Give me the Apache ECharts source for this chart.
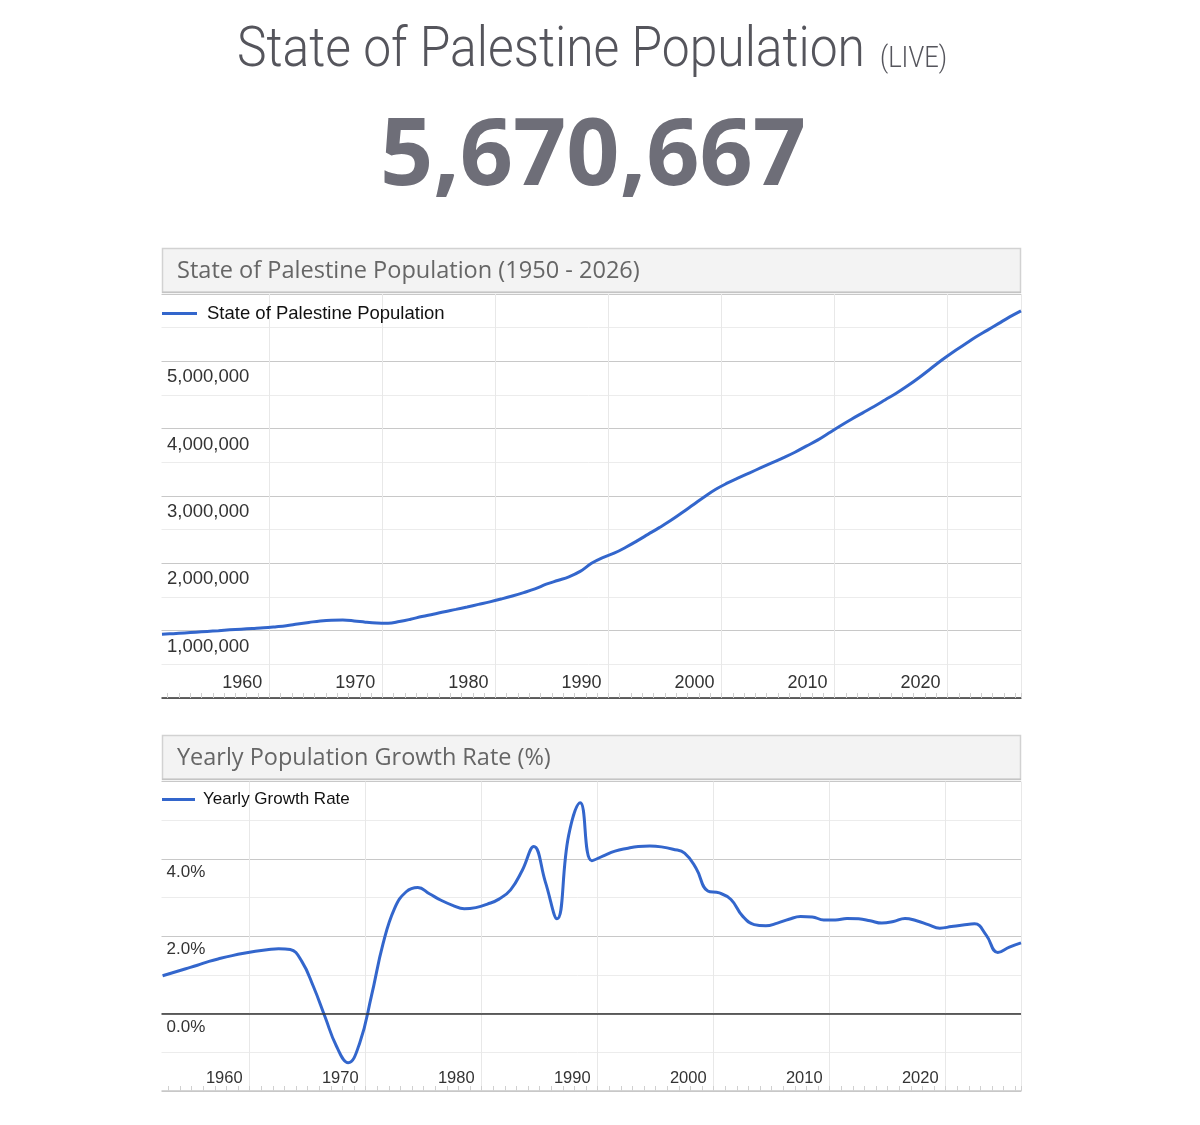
<!DOCTYPE html>
<html><head><meta charset="utf-8">
<script src="https://cdn.jsdelivr.net/npm/echarts@6/dist/echarts.min.js"></script>
<style>html,body{margin:0;padding:0;background:#fff}#c{width:1200px;height:1125px}</style>
</head><body><div id="c"></div><script>
// ---- data (mid-year estimates) ----
const popYears = [1950,1951,1952,1953,1954,1955,1956,1957,1958,1959,1960,1961,1962,1963,1964,1965,1966,1967,1968,1969,1970,1971,1972,1973,1974,1975,1976,1977,1978,1979,1980,1981,1982,1983,1984,1985,1986,1987,1988,1989,1990,1991,1992,1993,1994,1995,1996,1997,1998,1999,2000,2001,2002,2003,2004,2005,2006,2007,2008,2009,2010,2011,2012,2013,2014,2015,2016,2017,2018,2019,2020,2021,2022,2023,2024,2025,2026];
const popValues = [945000,956000,967000,978000,989000,1000000,1012000,1022000,1032000,1042000,1056000,1072000,1098000,1122000,1145000,1156000,1157000,1145000,1126000,1113000,1110000,1135000,1170000,1210000,1245000,1282000,1316000,1352000,1390000,1428000,1470000,1515000,1565000,1620000,1690000,1745000,1800000,1880000,2000000,2085000,2150000,2235000,2330000,2430000,2530000,2635000,2750000,2870000,2990000,3100000,3190000,3270000,3345000,3420000,3495000,3570000,3650000,3740000,3830000,3935000,4040000,4140000,4235000,4330000,4430000,4530000,4640000,4760000,4890000,5020000,5140000,5250000,5360000,5460000,5560000,5660000,5750000];
const growthYears = [1952,1953,1954,1955,1956,1957,1958,1959,1960,1961,1962,1963,1964,1965,1966,1967,1968,1969,1970,1971,1972,1973,1974,1975,1976,1977,1978,1979,1980,1981,1982,1983,1984,1985,1986,1987,1988,1989,1990,1991,1992,1993,1994,1995,1996,1997,1998,1999,2000,2001,2002,2003,2004,2005,2006,2007,2008,2009,2010,2011,2012,2013,2014,2015,2016,2017,2018,2019,2020,2021,2022,2023,2024,2025,2026];
const growthValues = [0.98,1.07,1.16,1.25,1.35,1.43,1.50,1.56,1.61,1.65,1.68,1.66,1.35,0.70,-0.08,-0.85,-1.27,-0.75,0.45,1.80,2.72,3.15,3.26,3.10,2.93,2.80,2.71,2.74,2.83,2.96,3.20,3.70,4.32,3.40,2.45,4.60,5.45,3.95,4.08,4.20,4.27,4.32,4.33,4.31,4.25,4.15,3.75,3.17,3.12,2.95,2.52,2.30,2.27,2.34,2.44,2.51,2.50,2.42,2.42,2.46,2.45,2.40,2.34,2.38,2.46,2.40,2.30,2.21,2.25,2.29,2.32,2.03,1.58,1.72,1.83];
const xTickLabels = [1960,1970,1980,1990,2000,2010,2020];
const popTickLabels = [1000000,2000000,3000000,4000000,5000000];
const growthTickLabels = [0,2,4];
const MID_YEAR = 0.5; // estimates refer to 1 July of each year

const headline = 'State of Palestine Population';
const liveTag = '(LIVE)';
const liveNumber = '5,670,667';
const popTitle = 'State of Palestine Population (1950 - 2026)';
const growthTitle = 'Yearly Population Growth Rate (%)';
const popSeriesName = 'State of Palestine Population';
const growthSeriesName = 'Yearly Growth Rate';

// ---- helpers ----
const ctx = document.createElement('canvas').getContext('2d');
function tw(font, s){ ctx.font = font; return ctx.measureText(s).width; }
function fitSize(family, weight, s, target, base){ return base * target / tw(weight+' '+base+'px '+family, s); }

const LINE = '#3366cc';
const AX_FONT = '"Liberation Sans", Arial, sans-serif';

const hFont = '300 56px Roboto';
const hScale = 628 / tw(hFont, headline);
const lFont = '300 29px Roboto';
const lScale = 67 / tw(lFont, liveTag);
const nFont = 'bold 94px "Open Sans"';
const nScale = 426 / tw(nFont, liveNumber);
const t1Size = fitSize('"Open Sans"', 'normal', popTitle, 463, 22);
const t2Size = fitSize('"Open Sans"', 'normal', growthTitle, 374, 22);

const chart = echarts.init(document.getElementById('c'), null, {renderer:'canvas'});

function xAxisCfg(gridIndex, maxV, fontSize, margin, lineColor, lineWidth){
  return {
    type:'value', gridIndex, min:1950, max:maxV, interval:10,
    axisLine:{show:true, onZero:false, lineStyle:{color:lineColor, width:lineWidth}},
    axisTick:{show:true, inside:true, length:5, lineStyle:{color:'#d0d0d0'}},
    minorTick:{show:true, splitNumber:10, length:5, lineStyle:{color:'#d0d0d0'}},
    splitLine:{show:true, lineStyle:{color:'#e8e8e8', width:1}},
    axisLabel:{
      inside:true, margin, align:'right', verticalAlign:'middle', padding:[0,7,0,0],
      fontFamily:AX_FONT, fontSize, color:'#333',
      formatter:v => xTickLabels.indexOf(Math.round(v)) >= 0 ? String(Math.round(v)) : ''
    }
  };
}

chart.setOption({
  animation:false,
  backgroundColor:'#fff',
  grid:[
    {left:156.3, right:179, top:294, height:404},
    {left:133.6, right:179, top:781.5, height:309.5}
  ],
  xAxis:[
    xAxisCfg(0, 2026.5, 18, 15, '#333', 1.5),
    xAxisCfg(1, 2026.5, 16.5, 13, '#c8c8c8', 1.5)
  ],
  yAxis:[
    {type:'value', gridIndex:0, min:0, max:6000000, interval:1000000,
     axisLine:{show:false}, axisTick:{show:false},
     minorTick:{show:false, splitNumber:2},
     splitLine:{show:true, lineStyle:{color:'#c8c8c8', width:1.2}},
     minorSplitLine:{show:true, lineStyle:{color:'#ececec', width:1}},
     axisLabel:{inside:true, margin:10.7, align:'left', verticalAlign:'top', lineHeight:32,
       fontFamily:AX_FONT, fontSize:18.5, color:'#333',
       formatter:v => popTickLabels.indexOf(v) >= 0 ? v.toLocaleString('en-US') : ''}
    },
    {type:'value', gridIndex:1, min:-2, max:6, interval:2,
     axisLine:{show:false}, axisTick:{show:false},
     minorTick:{show:false, splitNumber:2},
     splitLine:{show:true, lineStyle:{color:'#c8c8c8', width:1.2}},
     minorSplitLine:{show:true, lineStyle:{color:'#ececec', width:1}},
     axisLabel:{inside:true, margin:33, align:'left', verticalAlign:'top', lineHeight:27,
       fontFamily:AX_FONT, fontSize:17, color:'#333',
       formatter:v => growthTickLabels.indexOf(v) >= 0 ? v.toFixed(1)+'%' : ''}
    }
  ],
  legend:[
    {data:[{name:popSeriesName, icon:'rect'}], left:162, top:304, padding:0, itemWidth:35, itemHeight:3, itemGap:10,
     textStyle:{fontFamily:AX_FONT, fontSize:18.5, color:'#111', padding:[0,0,0,5]}},
    {data:[{name:growthSeriesName, icon:'rect'}], left:162, top:791, padding:0, itemWidth:33, itemHeight:3, itemGap:10,
     textStyle:{fontFamily:AX_FONT, fontSize:17, color:'#111', padding:[0,0,0,3]}}
  ],
  series:[
    {name:popSeriesName, type:'line', xAxisIndex:0, yAxisIndex:0, smooth:0.4, symbol:'none',
     lineStyle:{color:LINE, width:3}, itemStyle:{color:LINE},
     data: popYears.map((y,i)=>[y + MID_YEAR, popValues[i]])},
    {name:growthSeriesName, type:'line', xAxisIndex:1, yAxisIndex:1, smooth:0.45, symbol:'none',
     lineStyle:{color:LINE, width:3}, itemStyle:{color:LINE}, z:3,
     markLine:{silent:true, symbol:'none', label:{show:false}, animation:false,
       lineStyle:{color:'#333', width:1.5, type:'solid'}, data:[{yAxis:0}]},
     data: growthYears.map((y,i)=>[y + MID_YEAR, growthValues[i]])}
  ],
  graphic:[
    {type:'rect', z:90, silent:true, shape:{x:0, y:285, width:161.5, height:430}, style:{fill:'#fff'}},
    {type:'rect', z:90, silent:true, shape:{x:0, y:775, width:161.5, height:330}, style:{fill:'#fff'}},
    {type:'text', z:100, x:237, y:52, scaleX:hScale,
     style:{text:headline, font:hFont, fill:'#55555c', align:'left', verticalAlign:'middle', textAlign:'left', textVerticalAlign:'middle'}},
    {type:'text', z:100, x:880, y:60, scaleX:lScale,
     style:{text:liveTag, font:lFont, fill:'#55555c', align:'left', verticalAlign:'middle', textAlign:'left', textVerticalAlign:'middle'}},
    {type:'text', z:100, x:593, y:158, scaleX:nScale,
     style:{text:liveNumber, font:nFont, fill:'#6e6e78', align:'center', verticalAlign:'middle', textAlign:'center', textVerticalAlign:'middle'}},
    {type:'rect', z:100, silent:true, shape:{x:162.5, y:248.5, width:858, height:44}, style:{fill:'#f3f3f3', stroke:'#d2d2d2', lineWidth:1.5}},
    {type:'rect', z:101, silent:true, shape:{x:162, y:291.5, width:859, height:1.5}, style:{fill:'#c4c4c4'}},
    {type:'text', z:102, x:177, y:271,
     style:{text:popTitle, font:'normal '+t1Size.toFixed(2)+'px "Open Sans"', fill:'#666', align:'left', verticalAlign:'middle', textAlign:'left', textVerticalAlign:'middle'}},
    {type:'rect', z:100, silent:true, shape:{x:162.5, y:735.5, width:858, height:44}, style:{fill:'#f3f3f3', stroke:'#d2d2d2', lineWidth:1.5}},
    {type:'rect', z:101, silent:true, shape:{x:162, y:778.5, width:859, height:1.5}, style:{fill:'#c4c4c4'}},
    {type:'text', z:102, x:177, y:758,
     style:{text:growthTitle, font:'normal '+t2Size.toFixed(2)+'px "Open Sans"', fill:'#666', align:'left', verticalAlign:'middle', textAlign:'left', textVerticalAlign:'middle'}}
  ]
});
</script></body></html>
